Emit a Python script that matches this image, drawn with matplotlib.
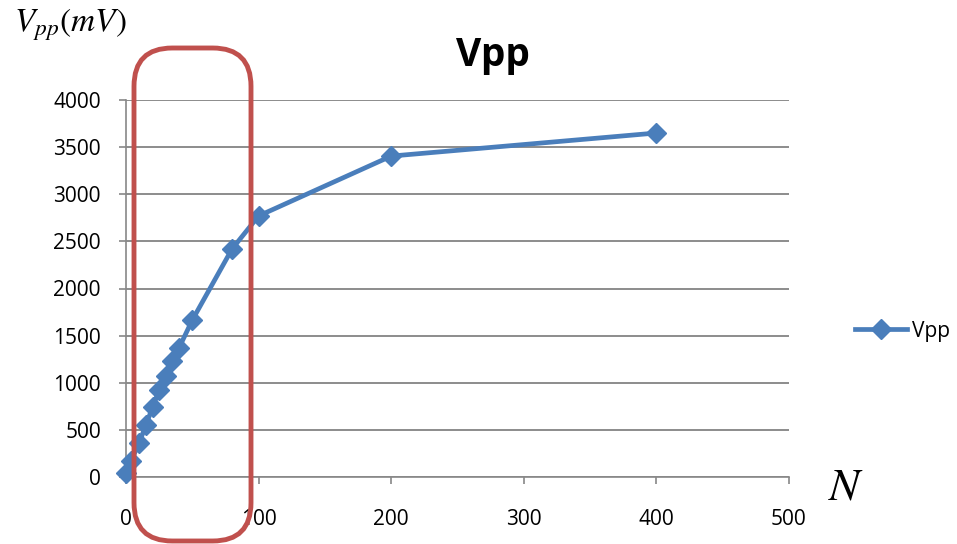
import matplotlib
matplotlib.use("Agg")
import matplotlib.pyplot as plt
from matplotlib.patches import FancyBboxPatch

# Measured peak-to-peak voltage versus N
n_values = [0, 4, 10, 15, 20, 25, 30, 35, 40, 50, 80, 100, 200, 400]
vpp_mv = [40, 175, 365, 550, 740, 920, 1070, 1230, 1370, 1665, 2420, 2770, 3405, 3650]

x_ticks = [0, 100, 200, 300, 400, 500]
y_ticks = [0, 500, 1000, 1500, 2000, 2500, 3000, 3500, 4000]

plt.rcParams["font.family"] = ["Open Sans", "DejaVu Sans"]
plt.rcParams["mathtext.fontset"] = "stix"

W, H = 957, 544
fig = plt.figure(figsize=(W / 100, H / 100), dpi=100)
ax = fig.add_axes([126 / W, (H - 477) / H, (789 - 126) / W, (477 - 100) / H])

blue = "#4A7EBB"
ax.plot(n_values, vpp_mv, color=blue, lw=3.4, marker="D", markersize=10.5,
        markerfacecolor=blue, markeredgecolor=blue, label="Vpp", zorder=3,
        clip_on=False)

ax.set_xlim(0, 500)
ax.set_ylim(0, 4000)
ax.set_xticks(x_ticks)
ax.set_yticks(y_ticks)
ax.tick_params(axis="both", labelsize=15, colors="#888888", labelcolor="black",
               direction="out", length=5, width=1.2)
ax.tick_params(axis="x", pad=18)
ax.tick_params(axis="y", pad=13)

ax.yaxis.grid(True, color="#8C8C8C", lw=1.4)
ax.set_axisbelow(True)
for side in ("top", "right"):
    ax.spines[side].set_visible(False)
for side in ("left", "bottom"):
    ax.spines[side].set_color("#888888")
    ax.spines[side].set_linewidth(1.2)

fig.text(493 / W, 1 - 66 / H, "Vpp", fontsize=28, fontweight="bold",
         ha="center", va="baseline")

leg = fig.legend(*ax.get_legend_handles_labels(), loc="center left",
                 bbox_to_anchor=(836 / W, 1 - 331 / H), frameon=False,
                 fontsize=15, handlelength=2.5, handletextpad=0.25)

fig.text(14 / W, 1 - 25 / H, r"$V_{pp}(mV)$", fontsize=24, ha="left", va="center")
fig.text(828 / W, 1 - 487 / H, r"$N$", fontsize=33, ha="left", va="center")

# Highlight around the low-N region
box = FancyBboxPatch((134 / W, 3 / H), (251 - 134) / W, (496 - 3) / H,
                     boxstyle="round,pad=0,rounding_size=0.04",
                     transform=fig.transFigure, fill=False,
                     edgecolor="#C0504D", lw=3.5, zorder=10,
                     mutation_aspect=W / H)
fig.patches.append(box)

fig.savefig("out.png", dpi=100)
